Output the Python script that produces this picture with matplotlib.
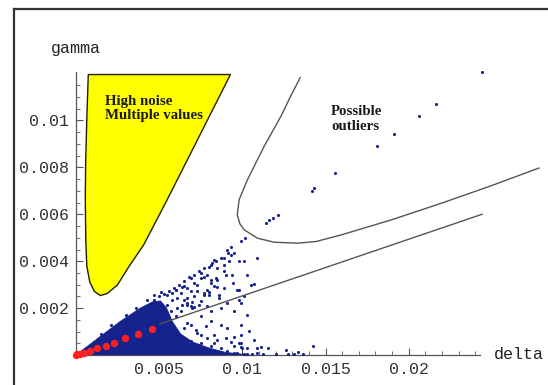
import matplotlib
matplotlib.use('Agg')
from matplotlib import pyplot as plt
from matplotlib.lines import Line2D

# blue sample points outside the dense core
blue_delta = [0.02441, 0.02163, 0.0206, 0.01913, 0.01808, 0.01558, 0.01432, 0.01419, 0.01212, 0.01182,
              0.01161, 0.01142, 0.01017,
              0.00991, 0.00931, 0.00907, 0.00914, 0.0087, 0.0089, 0.0084, 0.0083, 0.0082, 0.0081,
              0.008, 0.0077, 0.0075, 0.0074, 0.0071, 0.0069, 0.0068, 0.00649, 0.0064, 0.00619, 0.006,
              0.00589, 0.0058, 0.00559, 0.00529, 0.0051, 0.0047, 0.0043, 0.0036, 0.003, 0.0021, 0.0015,
              0.0092, 0.0089, 0.009, 0.0084, 0.0085, 0.0081, 0.0077, 0.0081, 0.0085, 0.008, 0.0077,
              0.008, 0.0086, 0.0086, 0.00971, 0.00981, 0.00911, 0.0099, 0.0075, 0.0073, 0.0069, 0.0065,
              0.0067, 0.0061, 0.0055, 0.0074, 0.007, 0.0067, 0.0071, 0.0079, 0.01087, 0.00981, 0.0093,
              0.00947, 0.00981, 0.01051, 0.01071,
              0.0067, 0.0072, 0.0078, 0.0083, 0.0075, 0.0065, 0.0067, 0.0069, 0.0075, 0.0081, 0.0083,
              0.0087, 0.009, 0.0093, 0.0095, 0.0095, 0.0098, 0.0099, 0.0099, 0.01001, 0.0095, 0.0097,
              0.0101, 0.0103, 0.01061, 0.01071, 0.01087, 0.01087, 0.01111, 0.01122, 0.01152, 0.01202,
              0.01262, 0.01272, 0.01312, 0.01332, 0.01363, 0.01423,
              0.00489, 0.00519, 0.00549, 0.0058, 0.0061, 0.00569, 0.00599, 0.0063, 0.0064, 0.0067,
              0.007, 0.00519, 0.00539, 0.00559, 0.0061, 0.00649, 0.0058, 0.0063, 0.00549, 0.00499,
              0.00469, 0.00599, 0.00649, 0.0069, 0.0073, 0.0071, 0.0077, 0.0079, 0.0075, 0.0081,
              0.0087, 0.00911, 0.0069, 0.0073, 0.0079, 0.0085, 0.0099, 0.01031, 0.00911,
              0.0075, 0.0079, 0.0071, 0.0067, 0.0063, 0.0085, 0.0089, 0.0095, 0.01011, 0.0094,
              0.01031, 0.0083, 0.0089, 0.01011, 0.0087, 0.0095, 0.01031, 0.0099, 0.01041, 0.0081]
blue_gamma = [0.01206, 0.01068, 0.01017, 0.00943, 0.00892, 0.00774, 0.00712, 0.00701, 0.00599, 0.00584,
              0.00574, 0.00563, 0.00501,
              0.00486, 0.0046, 0.00446, 0.00437, 0.00414, 0.00413, 0.004, 0.00406, 0.00392, 0.00386,
              0.00377, 0.00372, 0.00349, 0.0036, 0.00343, 0.00328, 0.00332, 0.00315, 0.00292, 0.00301,
              0.00278, 0.00287, 0.00264, 0.00272, 0.00261, 0.00268, 0.00255, 0.00235, 0.002, 0.0017,
              0.0013, 0.00092,
              0.004, 0.00358, 0.00342, 0.00329, 0.00322, 0.00322, 0.00335, 0.00307, 0.00292, 0.00271,
              0.00264, 0.00258, 0.00257, 0.00244, 0.00279, 0.00237, 0.00223, 0.00221, 0.0023, 0.00272,
              0.00209, 0.00237, 0.00244, 0.00201, 0.00173, 0.00214, 0.00228, 0.00214, 0.00207, 0.00278,
              0.00413, 0.00399, 0.00427, 0.00307, 0.00278, 0.00299, 0.00305,
              0.00137, 0.00107, 0.00124, 0.00087, 0.00086, 0.00073, 0.00065, 0.00059, 0.00052, 0.00038,
              0.00051, 0.00031, 0.00073, 0.00058, 0.00079, 0.00038, 0.00051, 0.00085, 0.00036, 0.00029,
              0.00011, 0.00008, 0.00005, 0.00005, 0.00005, 0.00065, 0.00029, 0.00011, 0.00036, 0.00005,
              0.00029, 0.00005, 0.00022, 0.00005, 0.00005, 0.00015, 0.00005, 0.00041,
              0.00187, 0.00201, 0.00215, 0.00237, 0.00244, 0.00187, 0.00166, 0.00187, 0.00215, 0.00223,
              0.00201, 0.00145, 0.00116, 0.00087, 0.00087, 0.00116, 0.00052, 0.00045, 0.00258, 0.00251,
              0.00237, 0.00279, 0.00294, 0.00272, 0.00301, 0.00251, 0.00258, 0.00209, 0.00166, 0.00145,
              0.0013, 0.00116, 0.0013, 0.00095, 0.00073, 0.00066, 0.00052, 0.00031, 0.00017,
              0.00329, 0.00343, 0.00308, 0.00287, 0.00265, 0.00372, 0.00386, 0.00436, 0.004, 0.00343,
              0.00343, 0.00294, 0.00287, 0.00251, 0.00201, 0.00187, 0.00173, 0.0013, 0.00102, 0.00187]

# outline of the dense cloud near the origin
core_delta = [0, 0.00148, 0.00268, 0.00389, 0.00461, 0.00509, 0.00545, 0.00581, 0.0063, 0.00702,
              0.00798, 0.009, 0.01051]
core_gamma = [0, 0.0008, 0.00144, 0.00201, 0.00227, 0.00231, 0.00201, 0.00142, 0.0009, 0.00056,
              0.00031, 0.00012, 0]

# red reference points
red_delta = [0.00003, 0.00009, 0.00027, 0.00047, 0.00084, 0.00127, 0.00181, 0.00232, 0.00294,
             0.00372, 0.00455]
red_gamma = [0.00001, 0.00003, 0.00005, 0.00011, 0.00019, 0.00029, 0.0004, 0.00053, 0.00072,
             0.00092, 0.00113]

# high noise region
noise_delta = [0.00075, 0.00066, 0.00059, 0.00057, 0.0006, 0.00066, 0.00084, 0.00111, 0.00148,
               0.0019, 0.0025, 0.00316, 0.00408, 0.00549, 0.00929]
noise_gamma = [0.01195, 0.01003, 0.00811, 0.00662, 0.00491, 0.0038, 0.00312, 0.00272, 0.00254,
               0.00263, 0.00299, 0.00374, 0.0047, 0.00662, 0.01195]

# outlier boundary curve
curve_delta = [0.01348, 0.01292, 0.01232, 0.01131, 0.01031, 0.00981, 0.0097, 0.00985, 0.01011,
               0.01092, 0.01192, 0.01333, 0.01443, 0.01598, 0.01899, 0.022, 0.02497, 0.02782]
curve_gamma = [0.01182, 0.01105, 0.01017, 0.00889, 0.00747, 0.00662, 0.00598, 0.0056, 0.00534,
               0.00498, 0.00481, 0.00477, 0.00484, 0.00513, 0.00577, 0.00648, 0.00722, 0.00797]

# straight limit line
line_delta = [0.00505, 0.0244]
line_gamma = [0.00133, 0.0060]

xticks = [0.005, 0.01, 0.015, 0.02]
xtick_labels = ['0.005', '0.01', '0.015', '0.02']
yticks = [0.002, 0.004, 0.006, 0.008, 0.01]
ytick_labels = ['0.002', '0.004', '0.006', '0.008', '0.01']

mono = 'Liberation Mono'
serif = 'Liberation Serif'
navy = '#16238c'

fig = plt.figure(figsize=(5.48, 3.85), dpi=100)
fig.patch.set_facecolor('white')

# page frame
fig.add_artist(Line2D([14 / 548, 14 / 548], [0, 1 - 9 / 385], color='#333333', lw=1.6))
fig.add_artist(Line2D([14 / 548, 1], [1 - 9 / 385, 1 - 9 / 385], color='#333333', lw=1.6))

ax = fig.add_axes([0.1383, 0.0774, 0.8507, 0.7351])
ax.set_xlim(0, 0.028)
ax.set_ylim(0, 0.01205)
ax.patch.set_alpha(0)

ax.fill(noise_delta, noise_gamma, facecolor='#ffff00', edgecolor='#222200', lw=1.0, zorder=2)
ax.fill(core_delta, core_gamma, facecolor=navy, edgecolor=navy, lw=0.6, zorder=3)
ax.scatter(blue_delta, blue_gamma, s=5, color=navy, linewidths=0, zorder=3, clip_on=False)
ax.plot(curve_delta, curve_gamma, color='#555555', lw=1.0, zorder=4, clip_on=False)
ax.plot(line_delta, line_gamma, color='#555555', lw=1.0, zorder=4)
ax.scatter(red_delta, red_gamma, s=28, color='#ff1f1f', linewidths=0, zorder=5, clip_on=False)

ax.text(0.00176, 0.01108, 'High noise\nMultiple values', family=serif, fontsize=10.7,
        weight='bold', color='#1a1a1a', va='top', ha='left', linespacing=1.15, zorder=6)
ax.text(0.01533, 0.01065, 'Possible\noutliers', family=serif, fontsize=10.7,
        weight='bold', color='#1a1a1a', va='top', ha='left', linespacing=1.15, zorder=6)

ax.text(0.0, 0.01306, 'gamma', family=mono, fontsize=12, color='#222222',
        ha='center', va='center', clip_on=False)
ax.text(0.0251, 0.00004, 'delta', family=mono, fontsize=12, color='#222222',
        ha='left', va='center', clip_on=False)

for side in ['top', 'right']:
    ax.spines[side].set_visible(False)
for side in ['left', 'bottom']:
    ax.spines[side].set_color('#555555')
    ax.spines[side].set_linewidth(0.9)
ax.spines['bottom'].set_bounds(0, 0.0243)

ax.set_xticks(xticks)
ax.set_xticklabels(xtick_labels, family=mono, fontsize=12, color='#333333')
ax.set_yticks(yticks)
ax.set_yticklabels(ytick_labels, family=mono, fontsize=12, color='#333333')
ax.set_xticks([i * 0.001 for i in range(1, 25) if i % 5 != 0], minor=True)
ax.set_yticks([i * 0.0005 for i in range(1, 25) if i % 4 != 0], minor=True)
ax.tick_params(which='major', direction='in', length=5, width=0.8, color='#555555', pad=5)
ax.tick_params(which='minor', direction='in', length=3, width=0.6, color='#555555')

plt.savefig('out.png', dpi=100)
